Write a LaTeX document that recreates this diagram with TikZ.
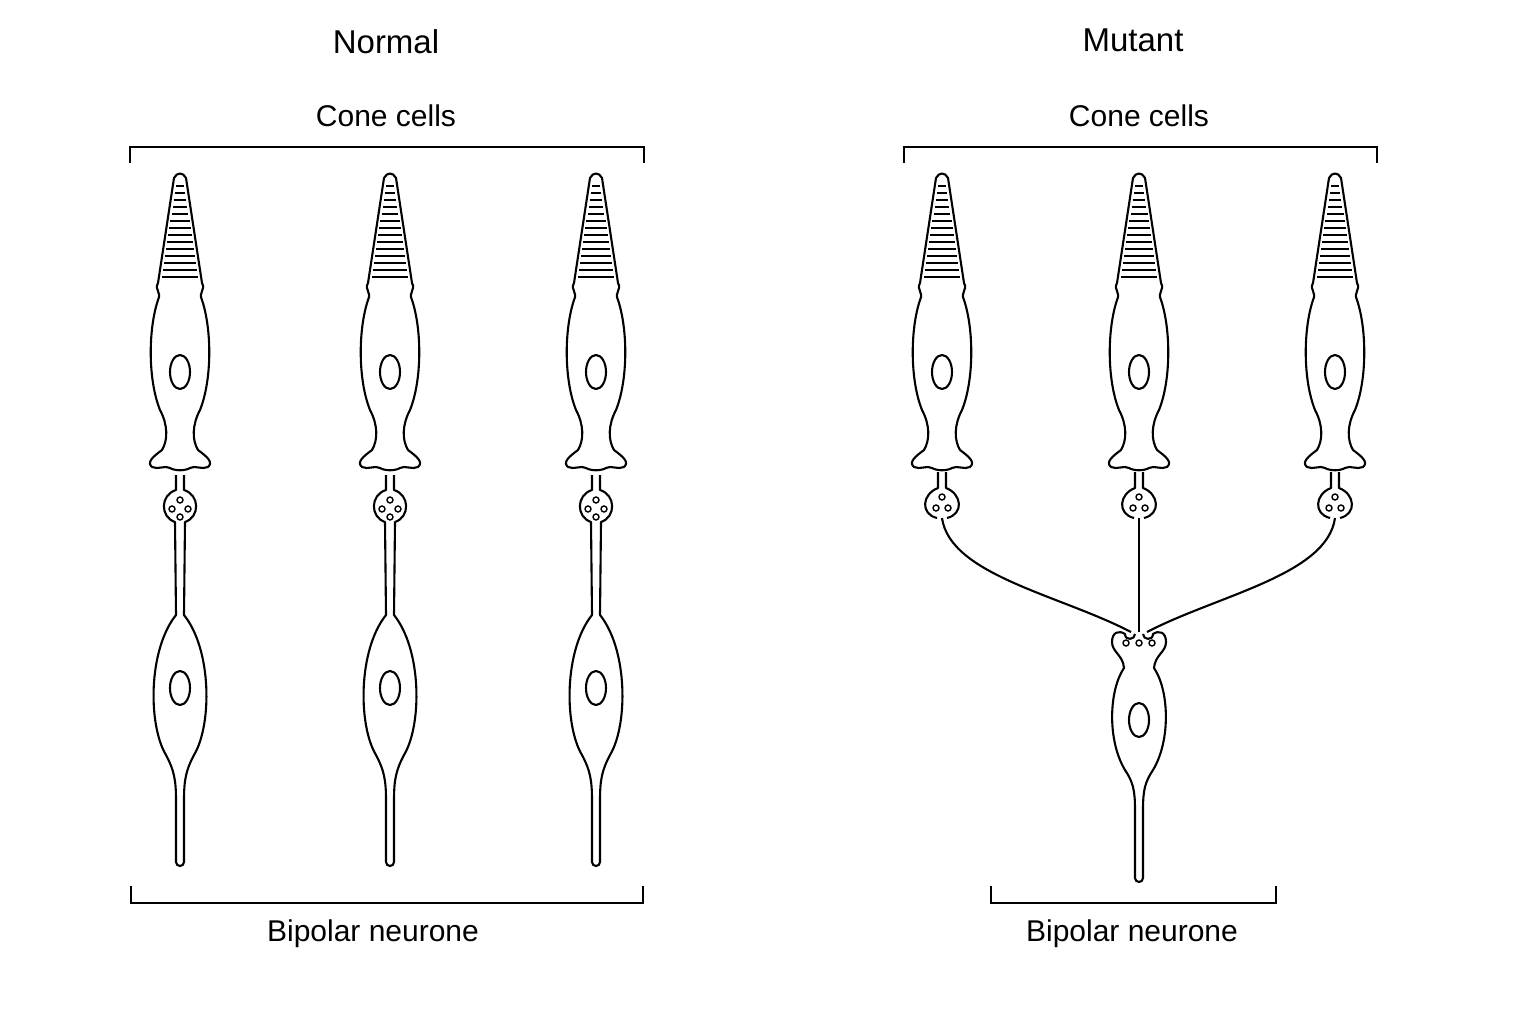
\documentclass[tikz,border=0pt]{standalone}
\usepackage{fontspec}
\setmainfont{Liberation Sans}
\tikzset{
  cell/.style={line width=2.1pt, line join=round},
  stripe/.style={line width=1.5pt},
  label/.style={font=\fontsize{30}{34}\selectfont},
  title/.style={font=\fontsize{33}{36}\selectfont},
  bracket/.style={line width=1.6pt}
}
% one cone cell, centred on x
\newcommand\conecell[1]{%
  \begin{scope}[xshift=#1pt]
    \draw[cell] (-22,283) -- (-6,178) .. controls (-3,172) and (3,172) .. (6,178) -- (22,283)
      .. controls (26,290) and (18,292) .. (22,300) .. controls (32,330) and (32,380) .. (20,410)
      .. controls (12,425) and (12,440) .. (18,450) .. controls (26,456) and (34,462) .. (28,467)
      .. controls (22,470) and (15,465) .. (10,468) .. controls (5,471) and (-5,471) .. (-10,468)
      .. controls (-15,465) and (-22,470) .. (-28,467) .. controls (-34,462) and (-26,456) .. (-18,450)
      .. controls (-12,440) and (-12,425) .. (-20,410) .. controls (-32,380) and (-32,330) .. (-22,300)
      .. controls (-18,292) and (-26,290) .. (-22,283) -- cycle;
    \foreach \yy in {186,193,...,278} {
      \pgfmathsetmacro\hw{6+(\yy-178)*16/105-3}
      \draw[stripe] (-\hw,\yy) -- (\hw,\yy);
    }
    \draw[cell] (0,372) ellipse (10 and 17);
  \end{scope}}
% knob under a cone cell and its bipolar neurone
\newcommand\onebipolar[1]{%
  \begin{scope}[xshift=#1pt]
    \draw[cell] (-4,475) -- (-4,490) .. controls (-20,495) and (-20,517) .. (-5,522) -- (-4,615)
      .. controls (-32,650) and (-32,725) .. (-14,755) .. controls (-6,770) and (-4,780) .. (-4,800)
      -- (-4,862) arc (180:0:4) -- (4,800) .. controls (4,780) and (6,770) .. (14,755)
      .. controls (32,725) and (32,650) .. (4,615) -- (5,522)
      .. controls (20,517) and (20,495) .. (4,490) -- (4,475);
    \foreach \dx/\dy in {0/500, -8/509, 8/509, 0/517}
      \draw[line width=1.4pt] (\dx,\dy) circle (3);
    \draw[cell] (0,688) ellipse (10 and 17);
  \end{scope}}
% knob of a cone cell in the mutant
\newcommand\mutknob[1]{%
  \begin{scope}[xshift=#1pt]
    \draw[cell] (-4,472) -- (-4,488) .. controls (-20,494) and (-22,514) .. (-5,518);
    \draw[cell] (4,472) -- (4,488) .. controls (20,494) and (22,514) .. (5,518);
    \foreach \dx/\dy in {0/497, -6/508, 6/508}
      \draw[line width=1.4pt] (\dx,\dy) circle (3);
  \end{scope}}
\begin{document}
\begin{tikzpicture}[x=1pt, y=-1pt]
  \useasboundingbox (0,0) rectangle (1536,1024);
  % titles and labels
  \node[title] (normal) at (386,42) {Normal};
  \node[title] (mutant) at (1133,40) {Mutant};
  \node[label] (cone1) at (386,116) {Cone cells};
  \node[label] (cone2) at (1139,116) {Cone cells};
  \node[label] (bip1) at (373,934) {Bipolar neurone};
  \node[label] (bip2) at (1132,934) {Bipolar neurone};
  % brackets
  \draw[bracket] (130,163) -- (130,147) -- (644,147) -- (644,163);
  \draw[bracket] (131,886) -- (131,903) -- (643,903) -- (643,886);
  \draw[bracket] (904,163) -- (904,147) -- (1377,147) -- (1377,163);
  \draw[bracket] (991,886) -- (991,903) -- (1276,903) -- (1276,886);
  % normal side
  \foreach \cx in {180,390,596} {
    \conecell{\cx}
    \onebipolar{\cx}
  }
  % mutant side
  \foreach \cx in {942,1139,1335} {
    \conecell{\cx}
    \mutknob{\cx}
  }
  \coordinate (synL) at (1131,632);
  \coordinate (synC) at (1139,632);
  \coordinate (synR) at (1147,632);
  \draw[cell] (942,518) .. controls (950,575) and (1060,595) .. (synL);
  \draw[cell] (1139,518) -- (synC);
  \draw[cell] (1335,518) .. controls (1327,575) and (1218,595) .. (synR);
  \begin{scope}[xshift=1139pt]
    \draw[cell] (-4,634) .. controls (-4,640) and (-14,641) .. (-14,634)
      .. controls (-20,630) and (-27,632) .. (-27,642) .. controls (-27,652) and (-16,655) .. (-15,668)
      .. controls (-30,690) and (-32,740) .. (-14,770) .. controls (-6,782) and (-4,790) .. (-4,810)
      -- (-4,878) arc (180:0:4) -- (4,810) .. controls (4,790) and (6,782) .. (14,770)
      .. controls (32,740) and (30,690) .. (15,668) .. controls (16,655) and (27,652) .. (27,642)
      .. controls (27,632) and (20,630) .. (14,634) .. controls (14,641) and (4,640) .. (4,634);
    \foreach \dx in {-13,0,13}
      \draw[line width=1.4pt] (\dx,643) circle (3);
    \draw[cell] (0,720) ellipse (10 and 17);
  \end{scope}
\end{tikzpicture}
\end{document}
